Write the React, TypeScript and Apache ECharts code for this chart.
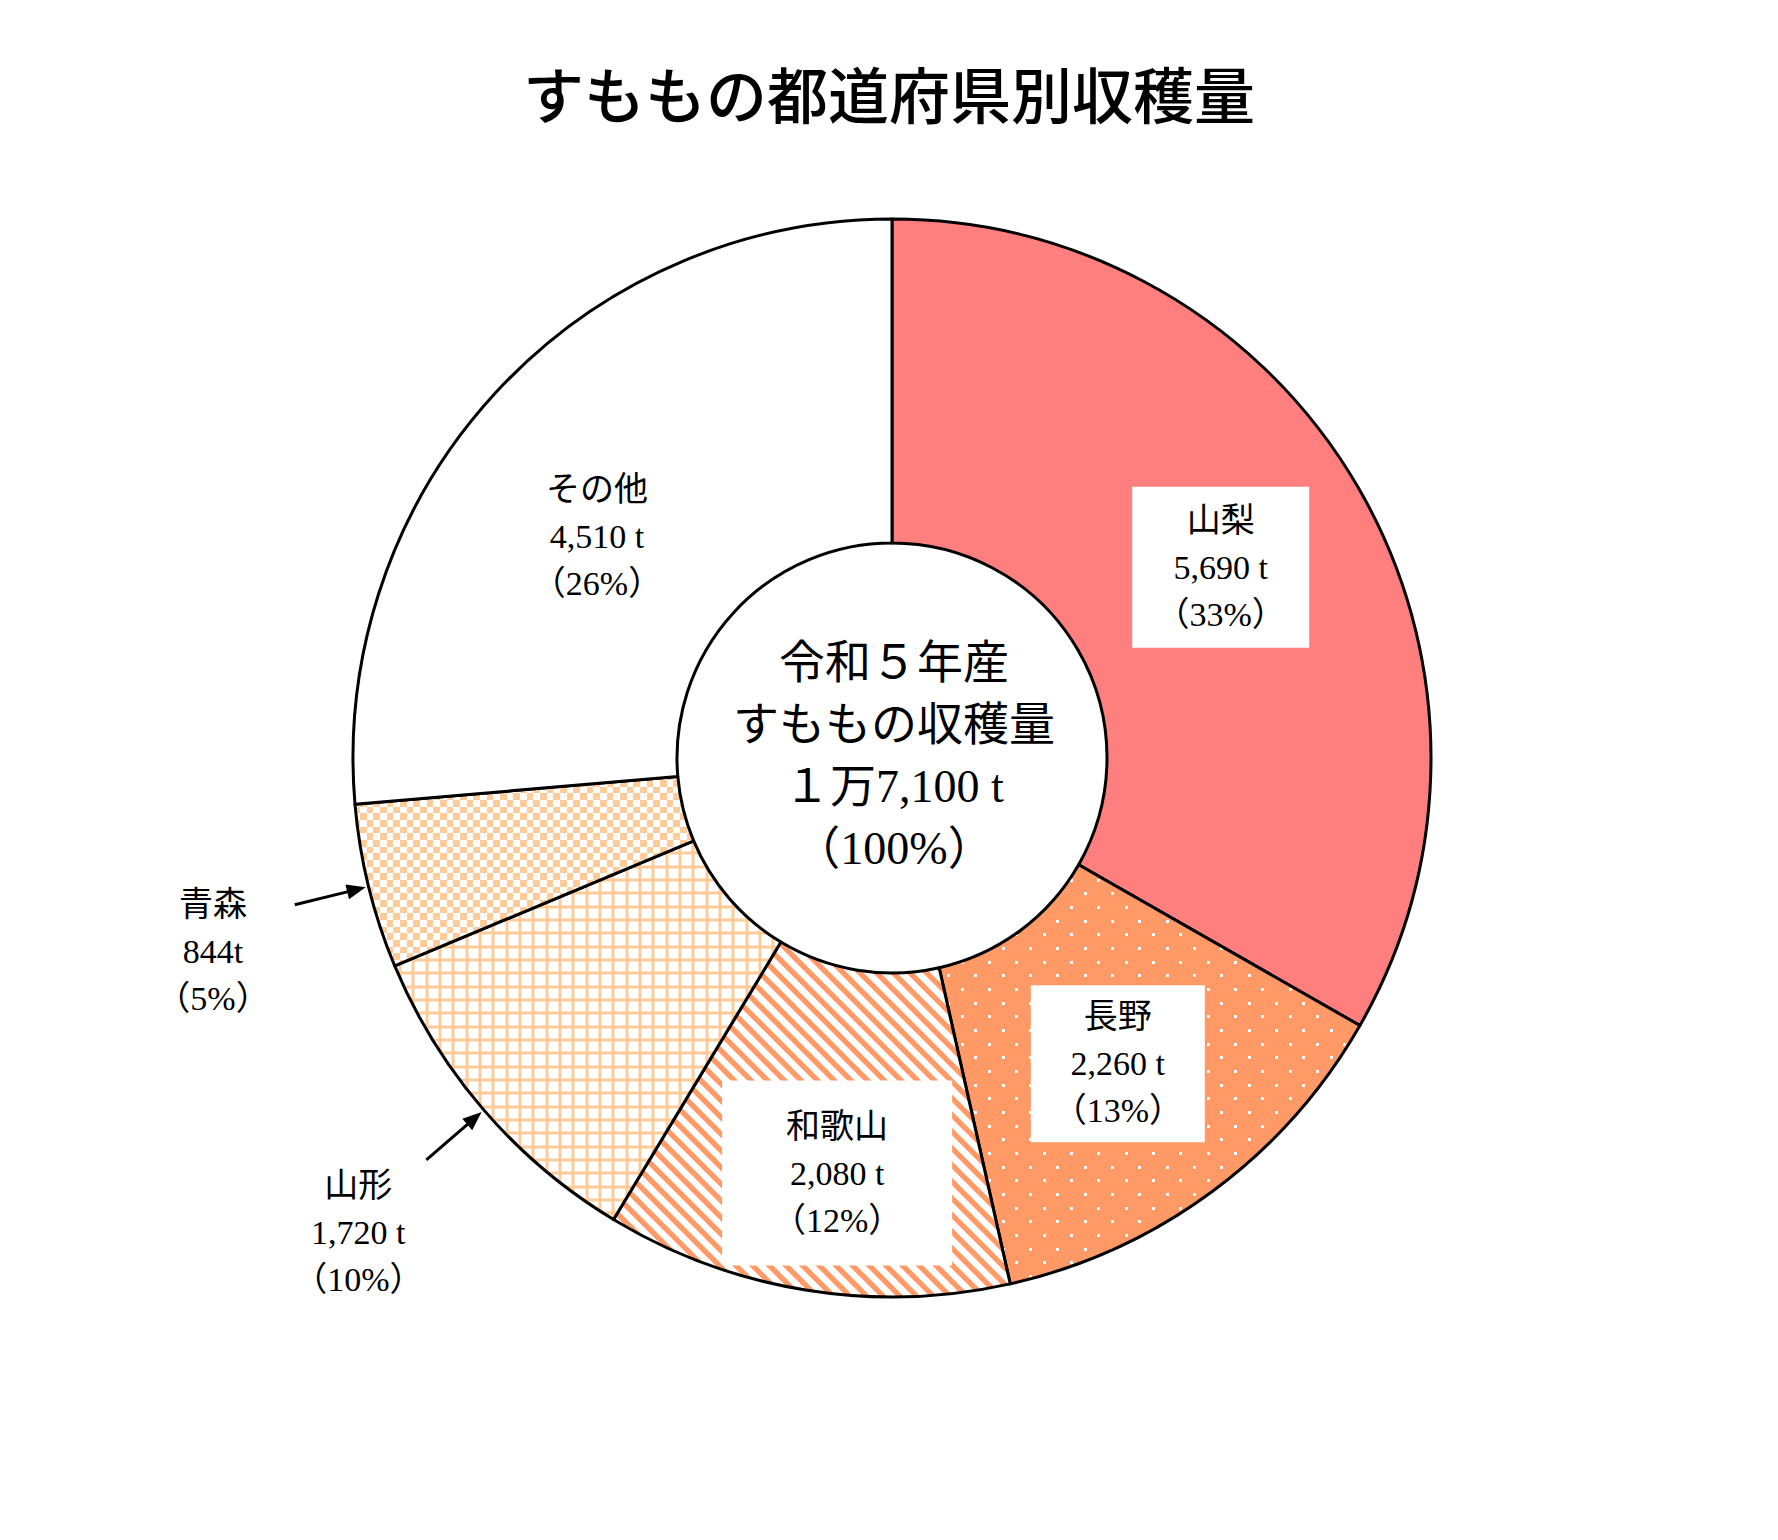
import React, { useEffect, useRef } from "react";
import * as echarts from "echarts";

// ---- data ----
const titleText = "すももの都道府県別収穫量";
const prefectures = ["山梨", "長野", "和歌山", "山形", "青森", "その他"];
const harvestTons = [5690, 2260, 2080, 1720, 844, 4510];
const amountLabels = ["5,690 t", "2,260 t", "2,080 t", "1,720 t", "844t", "4,510 t"];
const centerLines = ["令和５年産", "すももの収穫量", "１万7,100 t", "（100%）"];
const arrowIndices = [3, 4];

// ---- layout / style ----
const W = 1778;
const H = 1540;
const CX = 892;
const CY = 758;
const R0 = 215;
const R1 = 539;
const SERIF = "'Liberation Serif', 'Noto Sans CJK JP', serif";
const labelLayouts = [
  { box: true, w: 177, pad: 10, dx: 0, dy: 0 },
  { box: true, w: 174, pad: 8, dx: 0, dy: 0 },
  { box: true, w: 230, pad: 22, dx: 6, dy: 40 },
  { box: false, dx: -246, dy: 226 },
  { box: false, dx: -310, dy: 103 },
  { box: false, dx: -15, dy: 35 },
];

function makeCanvas(w: number, h: number, draw: (ctx: CanvasRenderingContext2D) => void) {
  const c = document.createElement("canvas");
  c.width = w;
  c.height = h;
  const ctx = c.getContext("2d")!;
  draw(ctx);
  return c;
}

function buildPatterns() {
  const P = 40 / 3;
  const orange = "#FF9966";
  const light = "#FFCC99";
  const dots = makeCanvas(82, 82, (ctx) => {
    ctx.fillStyle = orange;
    ctx.fillRect(0, 0, 82, 82);
    ctx.fillStyle = "#ffffff";
    const Q = 82 / 3;
    for (let i = 0; i < 3; i++) {
      for (let j = 0; j < 3; j++) {
        ctx.fillRect(Math.round(4 + i * Q), Math.round(4 + j * Q), 3, 3);
        ctx.fillRect(Math.round(4 + Q / 2 + i * Q), Math.round(4 + Q / 2 + j * Q), 3, 3);
      }
    }
  });
  const S = 50;
  const SP = S / 3;
  const stripes = makeCanvas(S, S, (ctx) => {
    ctx.fillStyle = "#ffffff";
    ctx.fillRect(0, 0, S, S);
    ctx.fillStyle = orange;
    const w = 7.5;
    for (let k = -5; k <= 5; k++) {
      const c = k * SP;
      ctx.beginPath();
      ctx.moveTo(c, 0);
      ctx.lineTo(c + w, 0);
      ctx.lineTo(c + w + S, S);
      ctx.lineTo(c + S, S);
      ctx.closePath();
      ctx.fill();
    }
  });
  const grid = makeCanvas(40, 40, (ctx) => {
    ctx.fillStyle = "#ffffff";
    ctx.fillRect(0, 0, 40, 40);
    ctx.fillStyle = light;
    for (let i = 0; i <= 3; i++) {
      const p = Math.round(i * P);
      ctx.fillRect(p - 1.5, 0, 3, 40);
      ctx.fillRect(0, p - 1.5, 40, 3);
    }
  });
  const checker = makeCanvas(40, 40, (ctx) => {
    ctx.fillStyle = "#ffffff";
    ctx.fillRect(0, 0, 40, 40);
    ctx.fillStyle = light;
    const b = [0, 7, 13, 20, 27, 33, 40];
    for (let i = 0; i < 6; i++) {
      for (let j = 0; j < 6; j++) {
        if ((i + j) % 2 === 0) ctx.fillRect(b[i], b[j], b[i + 1] - b[i], b[j + 1] - b[j]);
      }
    }
  });
  const pat = (c: HTMLCanvasElement) => ({
    image: c,
    repeat: "repeat",
    imageWidth: c.width,
    imageHeight: c.height,
  });
  return ["#FF7F7F", pat(dots), pat(stripes), pat(grid), pat(checker), "#ffffff"];
}

export default function App() {
  const ref = useRef<HTMLDivElement>(null);

  useEffect(() => {
    document.body.style.margin = "0";
    if (!ref.current) return;
    const chart = echarts.init(ref.current, undefined, { renderer: "svg" });
    const fills = buildPatterns();
    const total = harvestTons.reduce((a, b) => a + b, 0);

    const data = prefectures.map((name, i) => {
      const lay = labelLayouts[i];
      const label: any = {};
      if (lay.box) {
        label.backgroundColor = "#ffffff";
        label.width = lay.w;
        label.padding = [lay.pad, 0];
      }
      return {
        name,
        value: harvestTons[i],
        itemStyle: { color: fills[i] },
        label,
      };
    });

    // arrows from data angles
    const graphics: any[] = [];
    let cum = 0;
    const midAngles: number[] = [];
    harvestTons.forEach((v) => {
      midAngles.push(((cum + v / 2) / total) * 2 * Math.PI);
      cum += v;
    });
    arrowIndices.forEach((i) => {
      const a = midAngles[i];
      const pt = (r: number, off = 0) => [
        CX + r * Math.sin(a) + off * Math.cos(a),
        CY - r * Math.cos(a) + off * Math.sin(a),
      ];
      const tail = pt(615);
      const base = pt(560);
      const tip = pt(542);
      graphics.push({
        type: "line",
        shape: { x1: tail[0], y1: tail[1], x2: base[0], y2: base[1] },
        style: { stroke: "#000", lineWidth: 3 },
      });
      graphics.push({
        type: "polygon",
        shape: { points: [tip, pt(561, 7.5), pt(561, -7.5)] },
        style: { fill: "#000" },
      });
    });

    graphics.push({
      type: "text",
      x: CX + 2,
      y: CY - 3,
      style: {
        text: centerLines.join("\n"),
        fontSize: 46,
        fontFamily: SERIF,
        lineHeight: 62,
        fill: "#000",
        align: "center",
        verticalAlign: "middle",
        textAlign: "center",
        textVerticalAlign: "middle",
      },
    });

    chart.setOption({
      animation: false,
      backgroundColor: "#ffffff",
      title: {
        text: titleText,
        left: "center",
        top: 62,
        padding: 0,
        textStyle: {
          fontSize: 61,
          fontFamily: "'Noto Sans CJK JP', sans-serif",
          fontWeight: 500,
          color: "#000",
        },
      },
      series: [
        {
          type: "pie",
          center: [CX, CY],
          radius: [R0, R1],
          startAngle: 90,
          clockwise: true,
          avoidLabelOverlap: false,
          itemStyle: { borderColor: "#000", borderWidth: 3 },
          label: {
            show: true,
            position: "inside",
            color: "#000",
            fontSize: 34,
            lineHeight: 47,
            fontFamily: SERIF,
            align: "center",
            formatter: (p: any) =>
              `${p.name}\n${amountLabels[p.dataIndex]}\n（${Math.round((p.value / total) * 100)}%）`,
          },
          labelLine: { show: false },
          labelLayout: (p: any) => ({
            dx: labelLayouts[p.dataIndex].dx,
            dy: labelLayouts[p.dataIndex].dy,
          }),
          emphasis: { disabled: true },
          data,
        },
      ],
      graphic: graphics,
    });

    return () => chart.dispose();
  }, []);

  return <div ref={ref} style={{ width: W, height: H }} />;
}
